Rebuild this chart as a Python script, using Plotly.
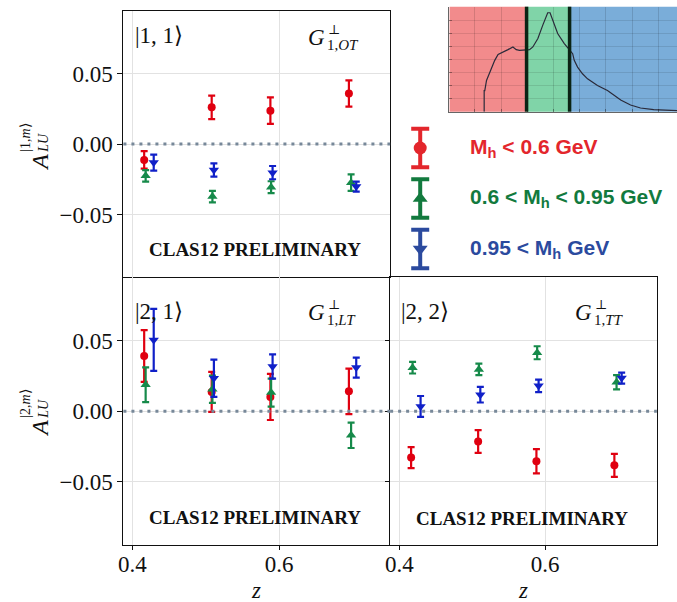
import plotly.graph_objects as go

# ---------------- data ----------------
z_lo = [0.416, 0.508, 0.588, 0.695]
z_mid = [0.418, 0.509, 0.589, 0.698]
z_hi = [0.429, 0.511, 0.591, 0.705]

a11_lo = [-0.0113, 0.0260, 0.0236, 0.0358]
a11_lo_err = [0.0062, 0.0083, 0.0094, 0.0093]
a11_mid = [-0.0226, -0.0373, -0.0306, -0.0274]
a11_mid_err = [0.0041, 0.0041, 0.0042, 0.0059]
a11_hi = [-0.0132, -0.0184, -0.0203, -0.0302]
a11_hi_err = [0.0057, 0.0047, 0.0047, 0.0035]

a21_lo = [0.0391, 0.0137, 0.0101, 0.0141]
a21_lo_err = [0.0183, 0.0141, 0.0163, 0.0161]
a21_mid = [0.0188, 0.0156, 0.0132, -0.0170]
a21_mid_err = [0.0123, 0.0097, 0.0099, 0.0090]
a21_hi = [0.0505, 0.0233, 0.0317, 0.0309]
a21_hi_err = [0.0220, 0.0132, 0.0086, 0.0071]

a22_lo = [-0.0328, -0.0214, -0.0354, -0.0383]
a22_lo_err = [0.0074, 0.0080, 0.0086, 0.0081]
a22_mid = [0.0308, 0.0296, 0.0414, 0.0205]
a22_mid_err = [0.0041, 0.0041, 0.0046, 0.0050]
a22_hi = [0.0034, 0.0117, 0.0180, 0.0235]
a22_hi_err = [0.0074, 0.0055, 0.0044, 0.0039]

# inset: dihadron invariant mass distribution (arbitrary units)
mh = [0.255, 0.255, 0.26, 0.274, 0.30, 0.341, 0.368, 0.395, 0.449, 0.489, 0.516,
      0.543, 0.597, 0.624, 0.651, 0.692, 0.732, 0.772, 0.791, 0.813, 0.853,
      0.907, 0.948, 0.975, 0.988, 1.015, 1.055, 1.096, 1.177, 1.258, 1.298,
      1.366, 1.446, 1.527, 1.635, 1.824]
counts = [0, 63, 63, 93, 118, 153, 171, 175, 185, 193, 185, 183, 183, 185, 193,
          218, 258, 295, 295, 273, 233, 203, 183, 173, 153, 133, 113, 98, 78,
          63, 53, 35, 20, 11, 6, 3]
mh_cuts = [0.6, 0.95]
mh_range = [-0.028, 1.824]

legend_labels = ["M<sub>h</sub> &lt; 0.6 GeV",
                 "0.6 &lt; M<sub>h</sub> &lt; 0.95 GeV",
                 "0.95 &lt; M<sub>h</sub> GeV"]
legend_rows = [2, 1, 0]

panel_kets = ["|1, 1⟩", "|2, 1⟩", "|2, 2⟩"]
panel_subs = ["1,<i>OT</i>", "1,<i>LT</i>", "1,<i>TT</i>"]

RED, GREEN, BLUE = "#e00010", "#168a4a", "#1020c8"
LRED, LGREEN, LBLUE = "#e3262c", "#127a3e", "#2b4a9e"

W, H = 677, 602
def px(x):
    return x / W
def py(y):
    return 1 - y / H

fig = go.Figure()

series = [
    ("x", "y", [(z_lo, a11_lo, a11_lo_err), (z_mid, a11_mid, a11_mid_err), (z_hi, a11_hi, a11_hi_err)]),
    ("x2", "y2", [(z_lo, a21_lo, a21_lo_err), (z_mid, a21_mid, a21_mid_err), (z_hi, a21_hi, a21_hi_err)]),
    ("x3", "y3", [(z_lo, a22_lo, a22_lo_err), (z_mid, a22_mid, a22_mid_err), (z_hi, a22_hi, a22_hi_err)]),
]
styles = [(RED, "circle", 8), (GREEN, "triangle-up", 9), (BLUE, "triangle-down", 9)]

for xa, ya, sets in series:
    for (zz, vv, ee), (col, sym, sz) in zip(sets, styles):
        fig.add_trace(go.Scatter(
            x=zz, y=vv, xaxis=xa, yaxis=ya, mode="markers",
            marker=dict(color=col, symbol=sym, size=sz, line=dict(width=0)),
            error_y=dict(type="data", array=ee, color=col, thickness=2.2, width=3.5),
            showlegend=False))

# inset curve
fig.add_trace(go.Scatter(x=mh, y=counts, xaxis="x4", yaxis="y4", mode="lines",
                         line=dict(color="#2a2a3a", width=1.2), showlegend=False))

# legend markers
for row, (col, sym) in zip(legend_rows, [(LRED, "circle"), (LGREEN, "triangle-up"), (LBLUE, "triangle-down")]):
    fig.add_trace(go.Scatter(
        x=[0], y=[row], xaxis="x5", yaxis="y5", mode="markers",
        marker=dict(color=col, symbol=sym, size=13, line=dict(width=0)),
        error_y=dict(type="data", array=[0.38], color=col, thickness=4, width=9),
        showlegend=False))

axis_common = dict(showline=True, linecolor="#111", linewidth=1.3,
                   zeroline=False, gridcolor="#e2e2e2", gridwidth=1,
                   tickfont=dict(family="Liberation Serif", size=23, color="#111"))
xr_left = [0.3877, 0.7512]
xr_right = [0.3872, 0.7533]
yr_top = [-0.0943, 0.0943]
yr_bot = [-0.0943, 0.0950]
xd_left = [px(119.3), px(388.0)]
xd_right = [px(388.0), px(656.7)]
yd_top = [py(277.0), py(11.0)]
yd_bot = [py(544.5), py(277.0)]

fig.update_layout(
    width=W, height=H, margin=dict(l=0, r=0, t=0, b=0),
    paper_bgcolor="white", plot_bgcolor="white",
    font=dict(family="Liberation Serif", color="#111"),
    xaxis=dict(domain=xd_left, range=xr_left, anchor="y", tickvals=[0.4, 0.6], mirror=True,
               showticklabels=False, ticks="", **axis_common),
    yaxis=dict(domain=yd_top, range=yr_top, anchor="x", tickvals=[-0.05, 0, 0.05], mirror=True,
               tickformat=".2f", ticks="outside", ticklen=5, tickcolor="#111", **axis_common),
    xaxis2=dict(domain=xd_left, range=xr_left, anchor="y2", tickvals=[0.4, 0.6], mirror=False,
                tickformat=".1f", ticks="outside", ticklen=4, tickcolor="#111",
                ticklabelstandoff=-5, **axis_common),
    yaxis2=dict(domain=yd_bot, range=yr_bot, anchor="x2", tickvals=[-0.05, 0, 0.05], mirror=False,
                tickformat=".2f", ticks="outside", ticklen=5, tickcolor="#111", **axis_common),
    xaxis3=dict(domain=xd_right, range=xr_right, anchor="y3", tickvals=[0.4, 0.6], mirror=True,
                tickformat=".1f", ticks="outside", ticklen=4, tickcolor="#111",
                ticklabelstandoff=-5, **axis_common),
    yaxis3=dict(domain=yd_bot, range=yr_bot, anchor="x3", tickvals=[-0.05, 0, 0.05], mirror=True,
                showticklabels=False, ticks="outside", ticklen=4, tickcolor="#111", **axis_common),
    xaxis4=dict(domain=[px(447.7), 1.0], range=mh_range, anchor="y4", showticklabels=False,
                showgrid=True, gridcolor="rgba(0,0,0,0.13)", tick0=0.18, dtick=0.213,
                ticks="inside", ticklen=3, tickcolor="rgba(0,0,0,0.35)",
                showline=True, linecolor="#666", linewidth=1, zeroline=False),
    yaxis4=dict(domain=[py(111.7), py(6.7)], range=[0, 313], anchor="x4", showticklabels=False,
                showgrid=True, gridcolor="rgba(0,0,0,0.10)", dtick=39,
                ticks="inside", ticklen=3, tickcolor="rgba(0,0,0,0.35)",
                showline=True, linecolor="#666", linewidth=1, zeroline=False),
    xaxis5=dict(domain=[px(398.3), px(438.3)], range=[-1, 1], anchor="y5", visible=False),
    yaxis5=dict(domain=[py(275), py(120)], range=[-0.515, 2.554], anchor="x5", visible=False),
)

shapes = []
# zero lines
for xa, ya in [("x", "y"), ("x2", "y2"), ("x3", "y3")]:
    shapes.append(dict(type="line", xref=f"{xa} domain", yref=ya, x0=0, x1=1, y0=0, y1=0,
                       line=dict(color="#778899", width=3, dash="3px,5px"), layer="above"))
# inset colour bands
bands = [(mh_range[0], mh_cuts[0], "#f28b8c"), (mh_cuts[0], mh_cuts[1], "#80d4a8"),
         (mh_cuts[1], mh_range[1], "#7aadd9")]
for x0, x1, c in bands:
    shapes.append(dict(type="rect", xref="x4", yref="y4 domain", x0=x0, x1=x1, y0=0, y1=1,
                       fillcolor=c, line=dict(width=0), layer="below"))
for c in mh_cuts:
    shapes.append(dict(type="line", xref="x4", yref="y4 domain", x0=c, x1=c, y0=0, y1=1,
                       line=dict(color="#0b2414", width=3.5), layer="above"))
fig.update_layout(shapes=shapes)

ann = []
# panel kets and G labels
ket_pos = [(128.5, 36.0), (128.5, 311.0), (397.0, 311.0)]
g_pos = [(303.5, 37.0), (303.5, 312.0), (572.0, 312.0)]
for ket, sub, (kx, ky), (gx, gy) in zip(panel_kets, panel_subs, ket_pos, g_pos):
    ann.append(dict(text=ket, x=px(kx), y=py(ky), xref="paper", yref="paper",
                    xanchor="left", yanchor="middle", showarrow=False,
                    font=dict(family="Liberation Serif", size=23, color="#111")))
    ann.append(dict(text="<i>G</i>", x=px(gx), y=py(gy), xref="paper", yref="paper",
                    xanchor="left", yanchor="middle", showarrow=False,
                    font=dict(family="Liberation Serif", size=23, color="#111")))
    ann.append(dict(text="⊥", x=px(gx + 28), y=py(gy - 8), xref="paper", yref="paper",
                    xanchor="center", yanchor="middle", showarrow=False,
                    font=dict(family="DejaVu Serif", size=13, color="#111")))
    ann.append(dict(text=sub, x=px(gx + 19), y=py(gy + 8), xref="paper", yref="paper",
                    xanchor="left", yanchor="middle", showarrow=False,
                    font=dict(family="Liberation Serif", size=15, color="#111")))

# CLAS12 PRELIMINARY
for cx, cy in [(252.0, 249.0), (252.0, 517.0), (521.0, 518.0)]:
    ann.append(dict(text="<b>CLAS12 PRELIMINARY</b>", x=px(cx), y=py(cy), xref="paper",
                    yref="paper", xanchor="center", yanchor="middle", showarrow=False,
                    font=dict(family="Liberation Serif", size=19, color="#111")))

# y axis titles
for ly, sup in [(145.0, "|1,<i>m</i>⟩"), (411.0, "|2,<i>m</i>⟩")]:
    ann.append(dict(text="<i>A</i>", x=px(35), y=py(ly + 17), xref="paper", yref="paper",
                    xanchor="center", yanchor="middle", textangle=-90, showarrow=False,
                    font=dict(family="Liberation Serif", size=24, color="#111")))
    ann.append(dict(text=sup + "<br><i>LU</i>", x=px(29), y=py(ly - 7), xref="paper",
                    yref="paper", xanchor="center", yanchor="middle", textangle=-90,
                    align="left", showarrow=False,
                    font=dict(family="Liberation Serif", size=14, color="#111")))

# x titles
for zx in [253.0, 522.0]:
    ann.append(dict(text="<i>z</i>", x=px(zx), y=py(590), xref="paper", yref="paper",
                    xanchor="center", yanchor="middle", showarrow=False,
                    font=dict(family="Liberation Serif", size=23, color="#111")))

# legend text
for row, lab, col in zip(legend_rows, legend_labels, [LRED, LGREEN, LBLUE]):
    ann.append(dict(text="<b>" + lab + "</b>", x=px(466.7), y=row, xref="paper", yref="y5",
                    xanchor="left", yanchor="middle", showarrow=False,
                    font=dict(family="Liberation Sans", size=21, color=col)))

fig.update_layout(annotations=ann)

fig.write_html("out.html")
